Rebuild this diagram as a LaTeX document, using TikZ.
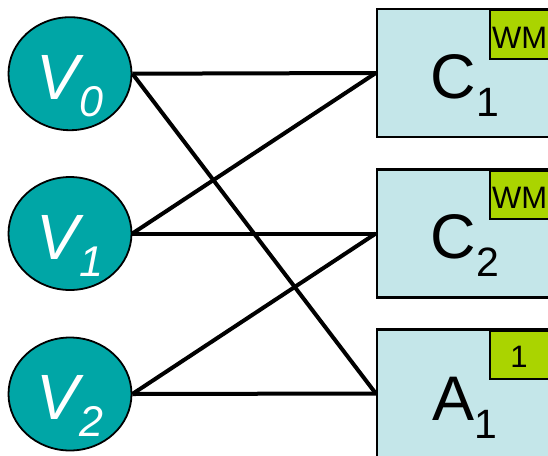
\documentclass[tikz,border=0pt]{standalone}
\usepackage{fontspec}
\setmainfont{Liberation Sans}
\usetikzlibrary{shapes.geometric}
\definecolor{vfill}{RGB}{0,166,166}
\definecolor{boxfill}{RGB}{196,230,233}
\definecolor{tagfill}{RGB}{170,212,0}
\newcommand\mkV[1]{\fontsize{64}{64}\selectfont\itshape V\raisebox{-17pt}{\fontsize{43}{43}\selectfont #1}}
\newcommand\mkC[2]{\fontsize{63}{63}\selectfont #1\raisebox{-18pt}{\fontsize{41}{41}\selectfont #2}}
\begin{document}
\begin{tikzpicture}[x=1pt,y=-1pt,
  vert/.style={ellipse,draw=black,line width=1.8pt,fill=vfill,minimum width=123pt,minimum height=113pt,inner sep=0pt},
  cbox/.style={rectangle,draw=black,line width=2.4pt,fill=boxfill,minimum width=183pt,minimum height=128pt,inner sep=0pt},
  tag/.style={rectangle,draw=black,line width=2pt,fill=tagfill,inner sep=0pt,minimum width=71pt,minimum height=48.7pt,anchor=north west},
  edge/.style={line width=4pt},
  lab/.style={inner sep=0pt,anchor=base}]
\useasboundingbox (0,0) rectangle (548,455);
\fill[white] (0,0) rectangle (548,455);
\node[vert] (v0) at (70,73.7) {};
\node[vert] (v1) at (70,233.5) {};
\node[vert] (v2) at (70,394) {};
\node[cbox] (c1) at (468.5,73) {};
\node[cbox] (c2) at (468.5,233.5) {};
\node[cbox] (a1) at (468.5,393.5) {};
\node[tag] (t1) at (489,9) {};
\node[tag] (t2) at (489,169.5) {};
\node[tag] (t3) at (489,329.5) {};
\node[lab,text=white] (l0) at (70,99) {\mkV{0}};
\node[lab,text=white] (l1) at (70,259) {\mkV{1}};
\node[lab,text=white] (l2) at (70,419.5) {\mkV{2}};
\node[lab] (lc1) at (465,98) {\mkC{C}{1}};
\node[lab] (lc2) at (465,258.5) {\mkC{C}{2}};
\node[lab] (la1) at (465,420) {\mkC{A}{1}};
\node[inner sep=0pt,anchor=base west] (w1) at (492,48) {\fontsize{31}{31}\selectfont WM};
\node[inner sep=0pt,anchor=base west] (w2) at (492,208.5) {\fontsize{31}{31}\selectfont WM};
\node[lab] (n3) at (519,367) {\fontsize{31}{31}\selectfont 1};
\draw[edge] (v0.east) -- (c1.west);
\draw[edge] (v0.east) -- (a1.west);
\draw[edge] (v1.east) -- (c1.west);
\draw[edge] (v1.east) -- (c2.west);
\draw[edge] (v2.east) -- (c2.west);
\draw[edge] (v2.east) -- (a1.west);
\end{tikzpicture}
\end{document}
